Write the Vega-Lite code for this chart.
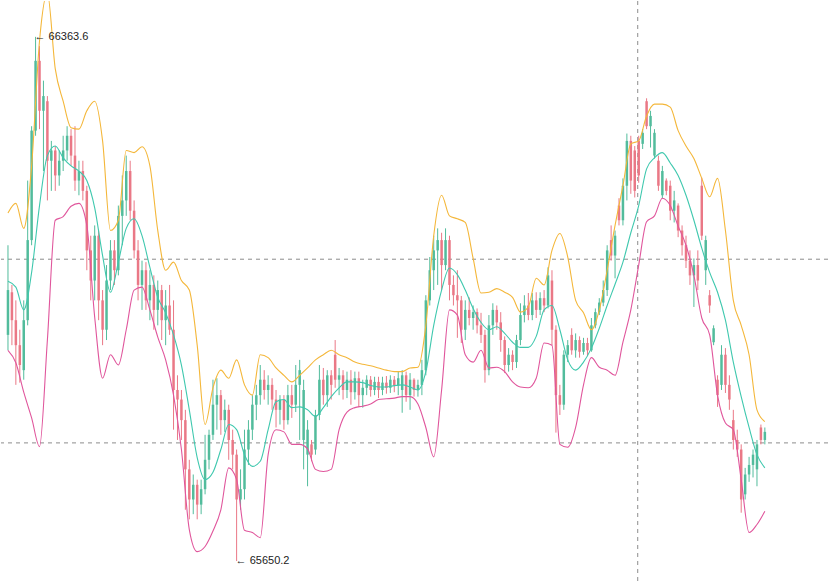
{
"$schema":"https://vega.github.io/schema/vega-lite/v6.json",
"width":829,"height":583,"autosize":{"type":"fit","contains":"padding"},"padding":0,"background":"white",
"config":{"view":{"stroke":null}},
"datasets":{
"candles":[
{"i":0,"o":65958,"h":66080,"l":65937,"c":66019},
{"i":1,"o":66016,"h":66026,"l":65944,"c":65978},
{"i":2,"o":65978,"h":66005,"l":65890,"c":65944},
{"i":3,"o":65944,"h":65965,"l":65893,"c":65917},
{"i":4,"o":65910,"h":66005,"l":65897,"c":65978},
{"i":5,"o":65978,"h":66168,"l":65971,"c":66087},
{"i":6,"o":66087,"h":66242,"l":66080,"c":66236},
{"i":7,"o":66236,"h":66363.6,"l":66229,"c":66331},
{"i":8,"o":66331,"h":66351,"l":66238,"c":66263},
{"i":9,"o":66263,"h":66304,"l":66181,"c":66283},
{"i":10,"o":66276,"h":66283,"l":66141,"c":66195},
{"i":11,"o":66195,"h":66222,"l":66154,"c":66209},
{"i":12,"o":66209,"h":66215,"l":66154,"c":66175},
{"i":13,"o":66175,"h":66209,"l":66161,"c":66195},
{"i":14,"o":66195,"h":66229,"l":66181,"c":66209},
{"i":15,"o":66209,"h":66242,"l":66195,"c":66229},
{"i":16,"o":66229,"h":66238,"l":66188,"c":66202},
{"i":17,"o":66202,"h":66242,"l":66154,"c":66168},
{"i":18,"o":66168,"h":66195,"l":66148,"c":66181},
{"i":19,"o":66181,"h":66195,"l":66141,"c":66154},
{"i":20,"o":66154,"h":66161,"l":66046,"c":66073},
{"i":21,"o":66073,"h":66093,"l":66005,"c":66032},
{"i":22,"o":66032,"h":66107,"l":66005,"c":66093},
{"i":23,"o":66093,"h":66100,"l":65978,"c":66005},
{"i":24,"o":66005,"h":66019,"l":65944,"c":65965},
{"i":25,"o":65965,"h":66053,"l":65951,"c":66032},
{"i":26,"o":66032,"h":66087,"l":66019,"c":66073},
{"i":27,"o":66073,"h":66087,"l":66026,"c":66046},
{"i":28,"o":66046,"h":66134,"l":66039,"c":66120},
{"i":29,"o":66120,"h":66175,"l":66080,"c":66141},
{"i":30,"o":66141,"h":66202,"l":66120,"c":66181},
{"i":31,"o":66181,"h":66195,"l":66114,"c":66127},
{"i":32,"o":66127,"h":66141,"l":66062,"c":66073},
{"i":33,"o":66073,"h":66087,"l":66005,"c":66026},
{"i":34,"o":66026,"h":66059,"l":65992,"c":66046},
{"i":35,"o":66046,"h":66057,"l":65992,"c":66005},
{"i":36,"o":66005,"h":66046,"l":65978,"c":66026},
{"i":37,"o":66026,"h":66039,"l":65965,"c":65992},
{"i":38,"o":65992,"h":66032,"l":65971,"c":66019},
{"i":39,"o":66019,"h":66026,"l":65951,"c":65978},
{"i":40,"o":65978,"h":66019,"l":65944,"c":65998},
{"i":41,"o":65998,"h":66026,"l":65958,"c":65965},
{"i":42,"o":65965,"h":66005,"l":65829,"c":65883},
{"i":43,"o":65883,"h":65903,"l":65815,"c":65870},
{"i":44,"o":65870,"h":65883,"l":65815,"c":65842},
{"i":45,"o":65842,"h":65856,"l":65720,"c":65775},
{"i":46,"o":65775,"h":65788,"l":65707,"c":65734},
{"i":47,"o":65734,"h":65768,"l":65714,"c":65754},
{"i":48,"o":65754,"h":65761,"l":65707,"c":65727},
{"i":49,"o":65727,"h":65761,"l":65714,"c":65748},
{"i":50,"o":65748,"h":65822,"l":65741,"c":65788},
{"i":51,"o":65788,"h":65829,"l":65775,"c":65822},
{"i":52,"o":65822,"h":65897,"l":65815,"c":65863},
{"i":53,"o":65863,"h":65899,"l":65829,"c":65876},
{"i":54,"o":65876,"h":65883,"l":65822,"c":65842},
{"i":55,"o":65842,"h":65870,"l":65826,"c":65856},
{"i":56,"o":65856,"h":65863,"l":65788,"c":65815},
{"i":57,"o":65815,"h":65829,"l":65775,"c":65795},
{"i":58,"o":65795,"h":65802,"l":65650.2,"c":65734},
{"i":59,"o":65734,"h":65775,"l":65720,"c":65748},
{"i":60,"o":65748,"h":65829,"l":65734,"c":65802},
{"i":61,"o":65802,"h":65842,"l":65781,"c":65829},
{"i":62,"o":65829,"h":65876,"l":65815,"c":65863},
{"i":63,"o":65863,"h":65890,"l":65842,"c":65876},
{"i":64,"o":65876,"h":65917,"l":65863,"c":65897},
{"i":65,"o":65897,"h":65910,"l":65870,"c":65883},
{"i":66,"o":65883,"h":65903,"l":65863,"c":65890},
{"i":67,"o":65890,"h":65899,"l":65856,"c":65870},
{"i":68,"o":65870,"h":65883,"l":65832,"c":65856},
{"i":69,"o":65856,"h":65876,"l":65836,"c":65870},
{"i":70,"o":65870,"h":65876,"l":65829,"c":65842},
{"i":71,"o":65842,"h":65890,"l":65836,"c":65876},
{"i":72,"o":65876,"h":65890,"l":65845,"c":65863},
{"i":73,"o":65863,"h":65917,"l":65853,"c":65890},
{"i":74,"o":65890,"h":65924,"l":65815,"c":65910},
{"i":75,"o":65815,"h":65897,"l":65775,"c":65883},
{"i":76,"o":65795,"h":65842,"l":65752,"c":65829},
{"i":77,"o":65809,"h":65815,"l":65786,"c":65795},
{"i":78,"o":65802,"h":65856,"l":65795,"c":65849},
{"i":79,"o":65849,"h":65917,"l":65842,"c":65897},
{"i":80,"o":65897,"h":65913,"l":65863,"c":65876},
{"i":81,"o":65876,"h":65910,"l":65860,"c":65903},
{"i":82,"o":65903,"h":65910,"l":65870,"c":65890},
{"i":83,"o":65931,"h":65951,"l":65886,"c":65897},
{"i":84,"o":65897,"h":65913,"l":65876,"c":65903},
{"i":85,"o":65903,"h":65910,"l":65870,"c":65883},
{"i":86,"o":65883,"h":65908,"l":65872,"c":65897},
{"i":87,"o":65897,"h":65910,"l":65863,"c":65880},
{"i":88,"o":65880,"h":65908,"l":65870,"c":65899},
{"i":89,"o":65899,"h":65908,"l":65860,"c":65876},
{"i":90,"o":65876,"h":65897,"l":65859,"c":65886},
{"i":91,"o":65886,"h":65903,"l":65876,"c":65897},
{"i":92,"o":65897,"h":65902,"l":65874,"c":65883},
{"i":93,"o":65883,"h":65901,"l":65876,"c":65894},
{"i":94,"o":65894,"h":65901,"l":65872,"c":65883},
{"i":95,"o":65883,"h":65901,"l":65876,"c":65893},
{"i":96,"o":65893,"h":65902,"l":65878,"c":65886},
{"i":97,"o":65886,"h":65903,"l":65879,"c":65897},
{"i":98,"o":65897,"h":65902,"l":65880,"c":65889},
{"i":99,"o":65889,"h":65908,"l":65876,"c":65899},
{"i":100,"o":65883,"h":65910,"l":65852,"c":65903},
{"i":101,"o":65903,"h":65908,"l":65867,"c":65876},
{"i":102,"o":65876,"h":65906,"l":65856,"c":65897},
{"i":103,"o":65897,"h":65899,"l":65874,"c":65883},
{"i":104,"o":65883,"h":65897,"l":65874,"c":65890},
{"i":105,"o":65890,"h":65924,"l":65876,"c":65910},
{"i":106,"o":65910,"h":66012,"l":65903,"c":66005},
{"i":107,"o":66005,"h":66064,"l":65998,"c":66046},
{"i":108,"o":66046,"h":66093,"l":66019,"c":66073},
{"i":109,"o":66073,"h":66103,"l":66026,"c":66087},
{"i":110,"o":66087,"h":66097,"l":66019,"c":66053},
{"i":111,"o":66053,"h":66103,"l":66046,"c":66087},
{"i":112,"o":66087,"h":66093,"l":66005,"c":66026},
{"i":113,"o":66026,"h":66039,"l":65998,"c":66012},
{"i":114,"o":66012,"h":66046,"l":65954,"c":66005},
{"i":115,"o":66005,"h":66011,"l":65947,"c":65965},
{"i":116,"o":65965,"h":66005,"l":65951,"c":65992},
{"i":117,"o":65992,"h":66009,"l":65971,"c":65981},
{"i":118,"o":65981,"h":65998,"l":65965,"c":65989},
{"i":119,"o":65989,"h":65994,"l":65960,"c":65971},
{"i":120,"o":65971,"h":65988,"l":65947,"c":65958},
{"i":121,"o":65958,"h":65965,"l":65893,"c":65910},
{"i":122,"o":65910,"h":65985,"l":65903,"c":65971},
{"i":123,"o":65971,"h":66001,"l":65958,"c":65992},
{"i":124,"o":65992,"h":65998,"l":65965,"c":65975},
{"i":125,"o":65975,"h":65989,"l":65935,"c":65951},
{"i":126,"o":65951,"h":65956,"l":65906,"c":65917},
{"i":127,"o":65917,"h":65940,"l":65908,"c":65931},
{"i":128,"o":65931,"h":65937,"l":65910,"c":65921},
{"i":129,"o":65921,"h":65958,"l":65913,"c":65951},
{"i":130,"o":65951,"h":66001,"l":65944,"c":65985},
{"i":131,"o":65985,"h":66012,"l":65975,"c":65998},
{"i":132,"o":65998,"h":66015,"l":65978,"c":65985},
{"i":133,"o":65985,"h":66015,"l":65978,"c":66005},
{"i":134,"o":66005,"h":66016,"l":65981,"c":65992},
{"i":135,"o":65992,"h":66016,"l":65985,"c":66008},
{"i":136,"o":66008,"h":66019,"l":65989,"c":65998},
{"i":137,"o":65998,"h":66050,"l":65994,"c":66039},
{"i":138,"o":66032,"h":66046,"l":65944,"c":65965},
{"i":139,"o":65965,"h":65971,"l":65825,"c":65876},
{"i":140,"o":65876,"h":65890,"l":65849,"c":65863},
{"i":141,"o":65863,"h":65937,"l":65856,"c":65931},
{"i":142,"o":65931,"h":65951,"l":65921,"c":65944},
{"i":143,"o":65958,"h":65967,"l":65931,"c":65937},
{"i":144,"o":65937,"h":65960,"l":65927,"c":65951},
{"i":145,"o":65951,"h":65956,"l":65927,"c":65935},
{"i":146,"o":65935,"h":65954,"l":65931,"c":65947},
{"i":147,"o":65947,"h":65954,"l":65929,"c":65937},
{"i":148,"o":65937,"h":65981,"l":65935,"c":65971},
{"i":149,"o":65971,"h":65994,"l":65967,"c":65989},
{"i":150,"o":65989,"h":66008,"l":65985,"c":66002},
{"i":151,"o":66002,"h":66032,"l":65997,"c":66019},
{"i":152,"o":66019,"h":66080,"l":66011,"c":66073},
{"i":153,"o":66087,"h":66107,"l":66059,"c":66066},
{"i":154,"o":66066,"h":66100,"l":66035,"c":66093},
{"i":155,"o":66134,"h":66144,"l":66107,"c":66114},
{"i":156,"o":66114,"h":66171,"l":66107,"c":66161},
{"i":157,"o":66161,"h":66232,"l":66141,"c":66222},
{"i":158,"o":66222,"h":66229,"l":66150,"c":66168},
{"i":159,"o":66209,"h":66215,"l":66145,"c":66154},
{"i":160,"o":66222,"h":66229,"l":66165,"c":66175},
{"i":161,"o":66218,"h":66238,"l":66211,"c":66233},
{"i":162,"o":66276,"h":66280,"l":66238,"c":66242},
{"i":163,"o":66242,"h":66263,"l":66213,"c":66256},
{"i":164,"o":66202,"h":66238,"l":66198,"c":66233},
{"i":165,"o":66195,"h":66202,"l":66154,"c":66161},
{"i":166,"o":66148,"h":66188,"l":66144,"c":66181},
{"i":167,"o":66168,"h":66171,"l":66148,"c":66154},
{"i":168,"o":66161,"h":66168,"l":66114,"c":66127},
{"i":169,"o":66127,"h":66154,"l":66111,"c":66141},
{"i":170,"o":66134,"h":66137,"l":66091,"c":66100},
{"i":171,"o":66100,"h":66107,"l":66066,"c":66080},
{"i":172,"o":66080,"h":66093,"l":66049,"c":66059},
{"i":173,"o":66059,"h":66073,"l":66026,"c":66039},
{"i":174,"o":66039,"h":66062,"l":65996,"c":66053},
{"i":175,"o":66053,"h":66073,"l":66019,"c":66032},
{"i":176,"o":66161,"h":66172,"l":66087,"c":66093},
{"i":177,"o":66046,"h":66093,"l":66026,"c":66087},
{"i":178,"o":66012,"h":66019,"l":65988,"c":65998},
{"i":179,"o":65948,"h":65971,"l":65944,"c":65967},
{"i":180,"o":65897,"h":65903,"l":65860,"c":65876},
{"i":181,"o":65890,"h":65944,"l":65883,"c":65931},
{"i":182,"o":65931,"h":65940,"l":65879,"c":65890},
{"i":183,"o":65890,"h":65903,"l":65856,"c":65870},
{"i":184,"o":65842,"h":65856,"l":65802,"c":65815},
{"i":185,"o":65815,"h":65829,"l":65792,"c":65802},
{"i":186,"o":65802,"h":65809,"l":65716,"c":65734},
{"i":187,"o":65741,"h":65777,"l":65734,"c":65768},
{"i":188,"o":65768,"h":65792,"l":65758,"c":65781},
{"i":189,"o":65781,"h":65802,"l":65764,"c":65795},
{"i":190,"o":65775,"h":65815,"l":65752,"c":65809},
{"i":191,"o":65832,"h":65836,"l":65809,"c":65815},
{"i":192,"o":65815,"h":65832,"l":65809,"c":65826}
],
"bands":[
{"i":0,"u":66124,"m":66031,"lo":65937},
{"i":2,"u":66137,"m":66023,"lo":65920},
{"i":4,"u":66103,"m":65992,"lo":65880},
{"i":6,"u":66188,"m":66043,"lo":65845},
{"i":8,"u":66358,"m":66134,"lo":65806},
{"i":10,"u":66423,"m":66202,"lo":65951},
{"i":12,"u":66320,"m":66215,"lo":66114},
{"i":14,"u":66276,"m":66199,"lo":66119},
{"i":16,"u":66240,"m":66188,"lo":66133},
{"i":18,"u":66238,"m":66181,"lo":66137},
{"i":20,"u":66263,"m":66168,"lo":66107},
{"i":22,"u":66276,"m":66131,"lo":65982},
{"i":24,"u":66222,"m":66066,"lo":65899},
{"i":26,"u":66100,"m":66016,"lo":65931},
{"i":28,"u":66114,"m":66057,"lo":65917},
{"i":30,"u":66209,"m":66103,"lo":65965},
{"i":32,"u":66206,"m":66116,"lo":66019},
{"i":34,"u":66214,"m":66093,"lo":66023},
{"i":36,"u":66188,"m":66050,"lo":65992},
{"i":38,"u":66100,"m":66009,"lo":65955},
{"i":40,"u":66046,"m":65988,"lo":65924},
{"i":42,"u":66057,"m":65958,"lo":65876},
{"i":44,"u":66032,"m":65917,"lo":65802},
{"i":46,"u":66019,"m":65856,"lo":65693},
{"i":48,"u":65944,"m":65791,"lo":65663},
{"i":50,"u":65836,"m":65761,"lo":65670},
{"i":52,"u":65886,"m":65771,"lo":65691},
{"i":54,"u":65910,"m":65802,"lo":65720},
{"i":56,"u":65899,"m":65836,"lo":65777},
{"i":58,"u":65924,"m":65829,"lo":65761},
{"i":60,"u":65890,"m":65795,"lo":65692},
{"i":62,"u":65876,"m":65779,"lo":65689},
{"i":64,"u":65931,"m":65786,"lo":65682},
{"i":66,"u":65927,"m":65829,"lo":65795},
{"i":68,"u":65913,"m":65867,"lo":65829},
{"i":70,"u":65903,"m":65870,"lo":65826},
{"i":72,"u":65894,"m":65859,"lo":65809},
{"i":74,"u":65903,"m":65860,"lo":65809},
{"i":76,"u":65913,"m":65856,"lo":65803},
{"i":78,"u":65924,"m":65847,"lo":65775},
{"i":80,"u":65931,"m":65859,"lo":65772},
{"i":82,"u":65937,"m":65874,"lo":65775},
{"i":84,"u":65931,"m":65886,"lo":65829},
{"i":86,"u":65927,"m":65894,"lo":65853},
{"i":88,"u":65921,"m":65894,"lo":65859},
{"i":90,"u":65918,"m":65893,"lo":65861},
{"i":92,"u":65916,"m":65889,"lo":65864},
{"i":94,"u":65913,"m":65887,"lo":65870},
{"i":96,"u":65910,"m":65887,"lo":65871},
{"i":98,"u":65908,"m":65889,"lo":65872},
{"i":100,"u":65908,"m":65890,"lo":65874},
{"i":102,"u":65913,"m":65887,"lo":65874},
{"i":104,"u":65914,"m":65883,"lo":65864},
{"i":106,"u":65971,"m":65908,"lo":65832},
{"i":108,"u":66093,"m":65971,"lo":65792},
{"i":110,"u":66148,"m":66019,"lo":65883},
{"i":112,"u":66120,"m":66049,"lo":65992},
{"i":114,"u":66116,"m":66040,"lo":65985},
{"i":116,"u":66111,"m":66019,"lo":65931},
{"i":118,"u":66062,"m":65994,"lo":65921},
{"i":120,"u":66015,"m":65975,"lo":65937},
{"i":122,"u":66016,"m":65965,"lo":65913},
{"i":124,"u":66021,"m":65969,"lo":65914},
{"i":126,"u":66016,"m":65960,"lo":65908},
{"i":128,"u":66009,"m":65948,"lo":65894},
{"i":130,"u":65989,"m":65941,"lo":65887},
{"i":132,"u":65996,"m":65941,"lo":65886},
{"i":134,"u":66035,"m":65956,"lo":65899},
{"i":136,"u":66026,"m":65992,"lo":65947},
{"i":138,"u":66073,"m":65998,"lo":65944},
{"i":140,"u":66096,"m":65965,"lo":65809},
{"i":142,"u":66064,"m":65924,"lo":65805},
{"i":144,"u":66005,"m":65910,"lo":65832},
{"i":146,"u":65988,"m":65921,"lo":65890},
{"i":148,"u":65965,"m":65940,"lo":65927},
{"i":150,"u":65992,"m":65967,"lo":65914},
{"i":152,"u":66046,"m":65998,"lo":65910},
{"i":154,"u":66107,"m":66027,"lo":65903},
{"i":156,"u":66161,"m":66057,"lo":65948},
{"i":158,"u":66218,"m":66097,"lo":65992},
{"i":160,"u":66222,"m":66134,"lo":66053},
{"i":162,"u":66256,"m":66184,"lo":66112},
{"i":164,"u":66272,"m":66199,"lo":66120},
{"i":166,"u":66272,"m":66206,"lo":66144},
{"i":168,"u":66268,"m":66192,"lo":66134},
{"i":170,"u":66236,"m":66175,"lo":66106},
{"i":172,"u":66215,"m":66148,"lo":66080},
{"i":174,"u":66198,"m":66114,"lo":66039},
{"i":176,"u":66171,"m":66076,"lo":65981},
{"i":178,"u":66146,"m":66043,"lo":65958},
{"i":180,"u":66171,"m":66016,"lo":65876},
{"i":182,"u":66100,"m":65978,"lo":65838},
{"i":184,"u":66005,"m":65921,"lo":65829},
{"i":186,"u":65971,"m":65874,"lo":65761},
{"i":188,"u":65931,"m":65832,"lo":65689},
{"i":190,"u":65856,"m":65795,"lo":65700},
{"i":192,"u":65840,"m":65777,"lo":65718}
],
"hlines":[{"p":66061},{"p":65811}],
"vlines":[{"i":159.75}],
"labels":[{"i":7,"p":66363.6,"t":"← 66363.6"},{"i":58,"p":65650.2,"t":"← 65650.2"}]
},
"encoding":{
"x":{"field":"i","type":"quantitative","scale":{"domain":[-0.5,206.75],"nice":false,"zero":false},"axis":null}
},
"layer":[
{"data":{"name":"hlines"},"mark":{"type":"rule","color":"#8c8c8c","strokeWidth":1,"strokeDash":[4,4]},
 "encoding":{"x":null,"y":{"field":"p","type":"quantitative","scale":{"domain":[65621.7,66412.4],"nice":false,"zero":false},"axis":null}}},
{"data":{"name":"vlines"},"mark":{"type":"rule","color":"#8c8c8c","strokeWidth":1,"strokeDash":[4,4]},
 "encoding":{"x":{"field":"i","type":"quantitative"}}},
{"data":{"name":"candles"},"mark":{"type":"rule","strokeWidth":1,"clip":true},
 "encoding":{"y":{"field":"l","type":"quantitative","scale":{"domain":[65621.7,66412.4],"nice":false,"zero":false},"axis":null},"y2":{"field":"h"},
 "color":{"condition":{"test":"datum.c >= datum.o","value":"#52bc9c"},"value":"#ea7886"}}},
{"data":{"name":"candles"},"mark":{"type":"bar","width":2.5,"clip":true},
 "encoding":{"y":{"field":"o","type":"quantitative"},"y2":{"field":"c"},
 "color":{"condition":{"test":"datum.c >= datum.o","value":"#52bc9c"},"value":"#ea7886"}}},
{"data":{"name":"bands"},"mark":{"type":"line","color":"#f4b73a","strokeWidth":1.1,"interpolate":"monotone","clip":true},
 "encoding":{"y":{"field":"u","type":"quantitative"}}},
{"data":{"name":"bands"},"mark":{"type":"line","color":"#3fc8ae","strokeWidth":1.1,"interpolate":"monotone","clip":true},
 "encoding":{"y":{"field":"m","type":"quantitative"}}},
{"data":{"name":"bands"},"mark":{"type":"line","color":"#e0569c","strokeWidth":1.1,"interpolate":"monotone","clip":true},
 "encoding":{"y":{"field":"lo","type":"quantitative"}}},
{"data":{"name":"labels"},"mark":{"type":"text","align":"left","baseline":"middle","dx":-1,"fontSize":11,"font":"Liberation Sans","color":"#222222"},
 "encoding":{"y":{"field":"p","type":"quantitative"},"text":{"field":"t"}}}
],
"resolve":{"scale":{"y":"shared","x":"shared"}}
}
